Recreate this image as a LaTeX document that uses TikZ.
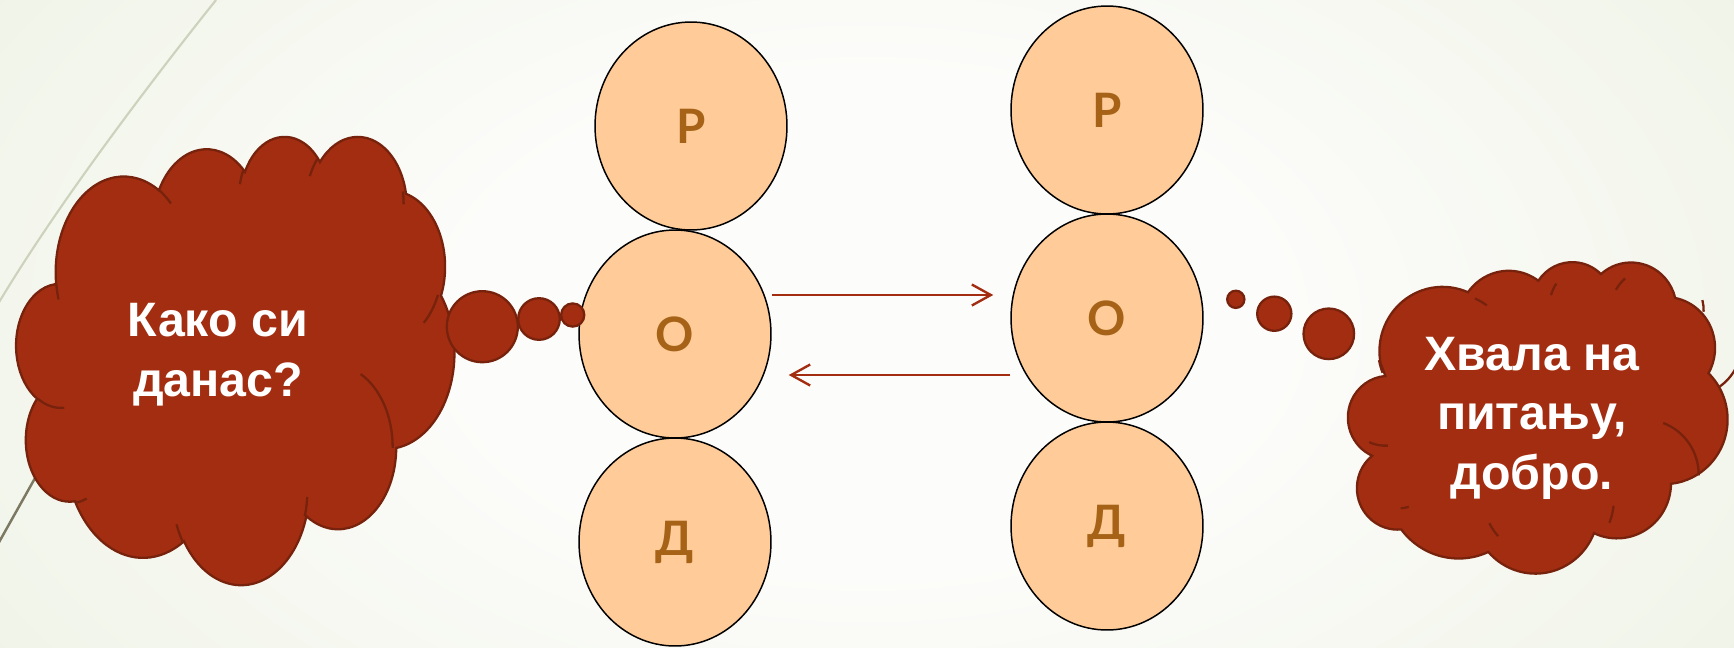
\documentclass[tikz,border=0pt]{standalone}
\usepackage{fontspec}
\usetikzlibrary{shapes.geometric,arrows.meta,calc}
\newfontfamily\bubblefont{Liberation Sans}
\newfontfamily\letterfont{Lato}
\definecolor{bgin}{RGB}{252,252,250}
\definecolor{bgout}{RGB}{224,233,207}
\definecolor{cloudred}{RGB}{163,45,17}
\definecolor{cloudrim}{RGB}{118,34,12}
\definecolor{peach}{RGB}{255,204,153}
\definecolor{lettertan}{RGB}{166,99,23}
\definecolor{wisplight}{RGB}{204,210,188}
\definecolor{wispdark}{RGB}{124,120,98}
\pgfdeclareradialshading{glow}{\pgfpoint{0bp}{0bp}}{color(0bp)=(bgin); color(12bp)=(bgin); color(54bp)=(bgout); color(72bp)=(bgout)}

\tikzset{
  letter/.style={ellipse, draw=black, line width=0.85pt, fill=peach, minimum width=3.84cm, minimum height=4.16cm, inner sep=0pt, text=lettertan, font=\letterfont\bfseries\fontsize{27}{27}\selectfont},
  cloudbody/.style={fill=cloudred, draw=cloudrim, line width=1.3pt},
  cloudedge/.style={draw=cloudrim, line width=1.3pt},
  talk/.style={text=white, align=center, anchor=base, inner sep=0pt, font=\bubblefont\bfseries\fontsize{27.5}{33.6}\selectfont},
  msgarrow/.style={draw=cloudred, line width=1.35pt, -{Straight Barb[length=0.38cm,width=0.42cm]}, shorten >=0.34cm},
  declare function={cang(\a,\p,\q)=atan2(\p*sin(\a),\q*cos(\a))+360*round((\a-atan2(\p*sin(\a),\q*cos(\a)))/360);}
}

\newcommand{\thoughtcloud}[4]{%
  \filldraw[cloudbody] ({#1+39.00/432*#3},{#2+143.70/432*#4})
    \foreach \wr/\hr/\st/\sw in {67.53/91.90/-190.4875/123.7805, 53.33/72.67/-144.1024/89.9452, 43.65/59.45/-145.8079/99.7230, 48.57/65.95/-130.9861/117.2417, 53.33/72.73/-78.7089/109.0269, 67.75/92.20/-46.2673/130.2690, 57.85/78.67/0.6250/114.0333, 67.52/92.15/22.4516/115.1726, 77.20/105.43/66.2426/75.7110, 43.60/59.18/-274.9421/146.7356, 43.45/59.45/-246.8285/152.5189}
    { arc[x radius={\wr/432*#3}, y radius={\hr/432*#4}, start angle={cang(\st,\wr/432*#3,\hr/432*#4)}, end angle={cang(\st+\sw,\wr/432*#3,\hr/432*#4)}] } -- cycle;
  \draw[cloudedge]
    \foreach \mx/\my/\wr/\hr/\st/\sw in {46.93/261.77/43.45/59.45/86.742/26.4295, 69.28/348.99/43.60/59.18/73.6105/11.4475, 164.78/390.90/67.52/92.15/137.6242/14.0811, 288.27/347.51/67.52/92.15/6.4533/15.9984, 341.29/229.54/57.85/78.67/-70.2924/70.9174, 417.98/153.54/53.33/72.73/30.3180/27.7515, 383.24/54.26/48.57/65.95/-13.7443/14.8589, 290.78/39.52/48.57/65.95/-149.1815/18.1954, 221.41/47.20/43.65/59.45/-163.4943/17.6864, 140.00/51.92/67.53/91.90/-66.7070/12.3194, 41.27/157.89/67.53/91.90/157.6544/11.8582}
    { ({#1+\mx/432*#3},{#2+\my/432*#4}) arc[x radius={\wr/432*#3}, y radius={\hr/432*#4}, start angle={cang(\st,\wr/432*#3,\hr/432*#4)}, end angle={cang(\st+\sw,\wr/432*#3,\hr/432*#4)}] };
}

\begin{document}
\begin{tikzpicture}[x=0.02cm, y=0.02cm, yscale=-1]
\useasboundingbox (0,0) rectangle (1734,647);
\shade[shading=glow] (0,-200) rectangle (1734,847);
\draw[wisplight, line width=1.2pt] (216,0) .. controls (160,70) and (60,200) .. (-2,304);
\draw[wispdark, line width=1.4pt] (135,300) -- (-2,544);
\node[letter] (lp) at (691,126) {Р};
\node[letter] (lo) at (675,334) {О};
\node[letter] (ld) at (675,542) {Д};
\node[letter] (rp) at (1107,110) {Р};
\node[letter] (ro) at (1107,318) {О};
\node[letter] (rd) at (1107,526) {Д};
\draw[msgarrow] ($(lo.east)+(0,-39)$) -- ($(ro.west)+(0,-23)$);
\draw[msgarrow] ($(ro.west)+(0,57)$) -- ($(lo.east)+(0,41)$);
\thoughtcloud{17}{135}{435}{450}
\thoughtcloud{1344}{262}{404}{303}
\filldraw[cloudbody] (482.3,326.7) circle (35.5);
\filldraw[cloudbody] (539,319) circle (20.8);
\filldraw[cloudbody] (572.7,315) circle (11.6);
\filldraw[cloudbody] (1235.8,299.3) circle (8.6);
\filldraw[cloudbody] (1274.3,313.7) circle (17.1);
\filldraw[cloudbody] (1328.8,333.8) circle (25.3);
\node[talk] (ask) at (218,396) {Како си\\данас?};
\node[talk] (reply) at (1532,489) {Хвала на\\питању,\\добро.};
\end{tikzpicture}
\end{document}
